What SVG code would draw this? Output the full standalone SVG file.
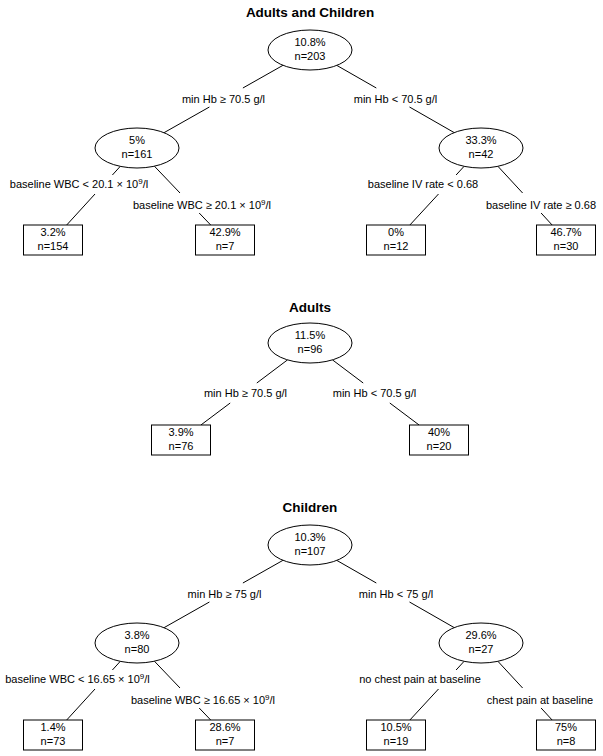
<svg xmlns="http://www.w3.org/2000/svg" width="603" height="756" viewBox="0 0 603 756">
<style>
text{font-family:"Liberation Sans",Arial,sans-serif;font-size:11px;fill:#000;text-anchor:middle}
.title{font-size:13.5px;font-weight:bold}
.sup{font-size:8px}
ellipse,rect{fill:#fff;stroke:#000;stroke-width:1}
.edges line{stroke:#000;stroke-width:1}
</style>
<rect x="0" y="0" width="603" height="756" style="fill:#fff;stroke:none"/>

<!-- Section 1 -->
<g id="sec1">
<text class="title" x="310" y="16.5">Adults and Children</text>
<g class="edges" id="sec1-connectors">
<line x1="283" y1="65.3" x2="242.9" y2="88"/><line x1="209.4" y1="107" x2="164" y2="132.7"/>
<line x1="336.8" y1="65.4" x2="376.3" y2="88"/><line x1="409.5" y1="107" x2="454.2" y2="132.6"/>
<line x1="120.3" y1="166.3" x2="112.4" y2="175"/><line x1="95" y1="194" x2="66.7" y2="225"/>
<line x1="154.4" y1="166.2" x2="180" y2="193"/><line x1="199.2" y1="213" x2="210.7" y2="225"/>
<line x1="464.1" y1="166.3" x2="456.1" y2="175"/><line x1="438.5" y1="194" x2="409.9" y2="225"/>
<line x1="497.9" y1="166.3" x2="522.6" y2="193"/><line x1="541.1" y1="213" x2="552.1" y2="225"/>
<text x="223.5" y="103">min Hb ≥ 70.5 g/l</text>
<text x="395.5" y="103">min Hb &lt; 70.5 g/l</text>
<text x="79" y="188">baseline WBC &lt; 20.1 × 10<tspan class="sup" dy="-4">9</tspan><tspan dy="4">/l</tspan></text>
<text x="202" y="209">baseline WBC ≥ 20.1 × 10<tspan class="sup" dy="-4">9</tspan><tspan dy="4">/l</tspan></text>
<text x="423" y="188">baseline IV rate &lt; 0.68</text>
<text x="541" y="209">baseline IV rate ≥ 0.68</text>
</g>
<g id="s1-root"><ellipse cx="310" cy="50" rx="42" ry="20"/><text x="310" y="46">10.8%</text><text x="310" y="60">n=203</text></g>
<g id="s1-left"><ellipse cx="137" cy="148" rx="42" ry="20"/><text x="137" y="144">5%</text><text x="137" y="158">n=161</text></g>
<g id="s1-right"><ellipse cx="481" cy="148" rx="42" ry="20"/><text x="481" y="144">33.3%</text><text x="481" y="158">n=42</text></g>
<g id="s1-leaf1"><rect x="23.5" y="225" width="59" height="30"/><text x="53" y="236">3.2%</text><text x="53" y="250">n=154</text></g>
<g id="s1-leaf2"><rect x="195.5" y="225" width="59" height="30"/><text x="225" y="236">42.9%</text><text x="225" y="250">n=7</text></g>
<g id="s1-leaf3"><rect x="366.5" y="225" width="59" height="30"/><text x="396" y="236">0%</text><text x="396" y="250">n=12</text></g>
<g id="s1-leaf4"><rect x="536.5" y="225" width="59" height="30"/><text x="566" y="236">46.7%</text><text x="566" y="250">n=30</text></g>
</g>

<!-- Section 2 -->
<g id="sec2">
<text class="title" x="310" y="312">Adults</text>
<g class="edges" id="sec2-connectors">
<line x1="287.5" y1="359.9" x2="256.8" y2="383"/><line x1="230.2" y1="403" x2="200.9" y2="425"/>
<line x1="332.5" y1="359.9" x2="363.2" y2="383"/><line x1="389.8" y1="403" x2="419.1" y2="425"/>
<text x="245.5" y="397">min Hb ≥ 70.5 g/l</text>
<text x="374.5" y="397">min Hb &lt; 70.5 g/l</text>
</g>
<g id="s2-root"><ellipse cx="310" cy="343" rx="42" ry="20"/><text x="310" y="339">11.5%</text><text x="310" y="353">n=96</text></g>
<g id="s2-leaf1"><rect x="151.5" y="425" width="59" height="30"/><text x="181" y="436">3.9%</text><text x="181" y="450">n=76</text></g>
<g id="s2-leaf2"><rect x="409.5" y="425" width="59" height="30"/><text x="439" y="436">40%</text><text x="439" y="450">n=20</text></g>
</g>

<!-- Section 3 -->
<g id="sec3" transform="translate(0,495)">
<text class="title" x="310" y="16.5">Children</text>
<g class="edges" id="sec3-connectors">
<line x1="283" y1="65.3" x2="242.9" y2="88"/><line x1="209.4" y1="107" x2="164" y2="132.7"/>
<line x1="336.8" y1="65.4" x2="376.3" y2="88"/><line x1="409.5" y1="107" x2="454.2" y2="132.6"/>
<line x1="120.3" y1="166.3" x2="112.4" y2="175"/><line x1="95" y1="194" x2="66.7" y2="225"/>
<line x1="154.4" y1="166.2" x2="180" y2="193"/><line x1="199.2" y1="213" x2="210.7" y2="225"/>
<line x1="464.1" y1="166.3" x2="456.1" y2="175"/><line x1="438.5" y1="194" x2="409.9" y2="225"/>
<line x1="497.9" y1="166.3" x2="522.6" y2="193"/><line x1="541.1" y1="213" x2="552.1" y2="225"/>
<text x="224.5" y="103">min Hb ≥ 75 g/l</text>
<text x="396" y="103">min Hb &lt; 75 g/l</text>
<text x="77.5" y="188">baseline WBC &lt; 16.65 × 10<tspan class="sup" dy="-4">9</tspan><tspan dy="4">/l</tspan></text>
<text x="203" y="209">baseline WBC ≥ 16.65 × 10<tspan class="sup" dy="-4">9</tspan><tspan dy="4">/l</tspan></text>
<text x="420" y="188">no chest pain at baseline</text>
<text x="540" y="209">chest pain at baseline</text>
</g>
<g id="s3-root"><ellipse cx="310" cy="50" rx="42" ry="20"/><text x="310" y="46">10.3%</text><text x="310" y="60">n=107</text></g>
<g id="s3-left"><ellipse cx="137" cy="148" rx="42" ry="20"/><text x="137" y="144">3.8%</text><text x="137" y="158">n=80</text></g>
<g id="s3-right"><ellipse cx="481" cy="148" rx="42" ry="20"/><text x="481" y="144">29.6%</text><text x="481" y="158">n=27</text></g>
<g id="s3-leaf1"><rect x="23.5" y="225" width="59" height="30"/><text x="53" y="236">1.4%</text><text x="53" y="250">n=73</text></g>
<g id="s3-leaf2"><rect x="195.5" y="225" width="59" height="30"/><text x="225" y="236">28.6%</text><text x="225" y="250">n=7</text></g>
<g id="s3-leaf3"><rect x="366.5" y="225" width="59" height="30"/><text x="396" y="236">10.5%</text><text x="396" y="250">n=19</text></g>
<g id="s3-leaf4"><rect x="536.5" y="225" width="59" height="30"/><text x="566" y="236">75%</text><text x="566" y="250">n=8</text></g>
</g>
</svg>
